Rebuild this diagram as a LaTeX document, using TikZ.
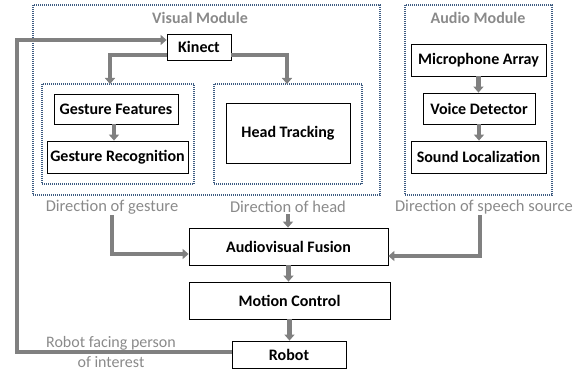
\documentclass[tikz,border=0pt]{standalone}
\usepackage{fontspec}
\setmainfont{Carlito}
\usetikzlibrary{arrows.meta,calc}
\definecolor{flowgray}{HTML}{808080}
\definecolor{labelgray}{HTML}{8A8A8A}
\definecolor{dotblue}{HTML}{3E5C82}
\tikzset{
  blockbox/.style={draw=black, line width=0.8pt, fill=white, inner sep=0pt,
    font=\fontsize{16}{19}\selectfont\bfseries, align=center},
  modulebox/.style={draw=dotblue, line width=1.1pt, dash pattern=on 1pt off 1pt,
    inner sep=0pt, outer sep=0pt},
  modlabel/.style={text=labelgray, font=\fontsize{16}{19}\selectfont\bfseries, inner sep=1pt},
  dirlabel/.style={text=labelgray, font=\fontsize{16.5}{21}\selectfont, inner sep=1pt, align=center},
  flow/.style={draw=flowgray, line width=4.5pt,
    -{Triangle[width=10pt,length=6pt]}},
}
\begin{document}
\begin{tikzpicture}[x=1pt,y=-1pt]
\useasboundingbox (0,0) rectangle (578,371);

% module frames
\node[modulebox, minimum width=347, minimum height=190] (vm) at (206.5,100) {};
\node[modulebox, minimum width=147, minimum height=190] (am) at (478.5,100) {};
\node[modulebox, minimum width=152, minimum height=100] (gb) at (118,134) {};
\node[modulebox, minimum width=148, minimum height=100] (hb) at (288,134) {};
\node[modlabel] (vml) at (200,18) {Visual Module};
\node[modlabel] (aml) at (478,18) {Audio Module};

% processing blocks
\node[blockbox, minimum width=64,  minimum height=26] (kin) at (199,47) {Kinect};
\node[blockbox, minimum width=124, minimum height=30] (gf)  at (116,109) {Gesture Features};
\node[blockbox, minimum width=141, minimum height=32] (gr)  at (117.5,157) {Gesture Recognition};
\node[blockbox, minimum width=124, minimum height=60] (ht)  at (288,133) {Head Tracking};
\node[blockbox, minimum width=135, minimum height=32] (ma)  at (478.5,60) {Microphone Array};
\node[blockbox, minimum width=112, minimum height=31] (vd)  at (479,108.5) {Voice Detector};
\node[blockbox, minimum width=135, minimum height=32] (sl)  at (478.5,157) {Sound Localization};
\node[blockbox, minimum width=199, minimum height=37] (af)  at (288.5,246.5) {Audiovisual Fusion};
\node[blockbox, minimum width=201, minimum height=37] (mc)  at (289.5,300.5) {Motion Control};
\node[blockbox, minimum width=114, minimum height=27] (rb)  at (289,354.5) {Robot};

% output labels
\node[dirlabel] (dg) at (112,207) {Direction of gesture};
\node[dirlabel] (dh) at (288,207) {Direction of head};
\node[dirlabel] (ds) at (484,207) {Direction of speech source};
\node[dirlabel, inner sep=0pt, font=\fontsize{16}{20}\selectfont] (rf) at (111,352.5)
  {Robot facing person\\of interest};

% connectors
\coordinate (fb) at (17,40);
\draw[flow] ($(kin.west)+(0,8)$) -| ($(gb.north)+(-8,0)$);
\draw[flow] ($(kin.east)+(0,8)$) -| ($(hb.north)+(-1,0)$);
\draw[flow] ($(gf.south)+(-2,0)$) -- ($(gf.south |- gr.north)+(-2,0)$);
\draw[flow] (ma.south) -- (ma.south |- vd.north);
\draw[flow] (vd.south) -- (vd.south |- sl.north);
\draw[flow] (dg.south) |- ($(af.west)+(0,7.5)$);
\draw[flow] ($(ds.south)+(-4,0)$) |- ($(af.east)+(0,9.5)$);
\draw[flow] (dh.south) -- (dh.south |- af.north);
\draw[flow] (af.south) -- (af.south |- mc.north);
\draw[flow] (mc.south) -- (mc.south |- rb.north);
\draw[flow] ($(rb.west)+(0,-2.5)$) -| (fb) -- ($(kin.west)+(0,-7)$);
\end{tikzpicture}
\end{document}
